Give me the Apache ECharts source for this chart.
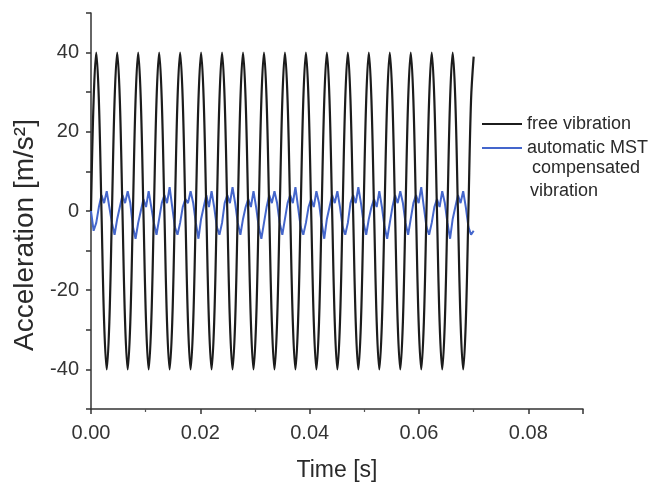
<!DOCTYPE html>
<html>
<head>
<meta charset="utf-8">
<script src="https://cdn.jsdelivr.net/npm/echarts@6/dist/echarts.min.js"></script>
<style>
html,body{margin:0;padding:0;background:#fff;}
#chart{width:652px;height:487px;}
</style>
</head>
<body>
<div id="chart"></div>
<script>
// Sampling step of the recorded signals [s] (8 samples per oscillation period)
const sampleStep = 0.00047945;

// Free vibration acceleration samples [m/s^2]
const freeVibration = [
  0, 28, 40, 28, 0, -28, -40, -28,
  0, 28, 40, 28, 0, -28, -40, -28,
  0, 28, 40, 28, 0, -28, -40, -28,
  0, 28, 40, 28, 0, -28, -40, -28,
  0, 28, 40, 28, 0, -28, -40, -28,
  0, 28, 40, 28, 0, -28, -40, -28,
  0, 28, 40, 28, 0, -28, -40, -28,
  0, 28, 40, 28, 0, -28, -40, -28,
  0, 28, 40, 28, 0, -28, -40, -28,
  0, 28, 40, 28, 0, -28, -40, -28,
  0, 28, 40, 28, 0, -28, -40, -28,
  0, 28, 40, 28, 0, -28, -40, -28,
  0, 28, 40, 28, 0, -28, -40, -28,
  0, 28, 40, 28, 0, -28, -40, -28,
  0, 28, 40, 28, 0, -28, -40, -28,
  0, 28, 40, 28, 0, -28, -40, -28,
  0, 28, 40, 28, 0, -28, -40, -28,
  0, 28, 40, 28, 0, -28, -40, -28,
  0, 28, 39
];

// Automatic MST compensated vibration acceleration samples [m/s^2]
const compensatedVibration = [
  0, -5, -3, 1, 4, 2, 5, 1,
  -3, -6, -2, 1, 4, 2, 5, 2,
  -4, -7, -3, 0, 3, 1, 5, 1,
  -3, -6, -2, 2, 4, 2, 6, 1,
  -4, -6, -3, 1, 3, 2, 5, 2,
  -3, -7, -2, 1, 4, 1, 5, 1,
  -4, -6, -3, 2, 4, 2, 6, 2,
  -3, -6, -2, 1, 3, 1, 5, 1,
  -4, -7, -3, 1, 4, 2, 5, 2,
  -3, -6, -2, 2, 4, 2, 6, 1,
  -4, -6, -3, 1, 3, 1, 5, 2,
  -3, -7, -2, 1, 4, 2, 5, 1,
  -4, -6, -3, 2, 4, 2, 6, 2,
  -3, -6, -2, 1, 3, 1, 5, 1,
  -4, -7, -3, 1, 4, 2, 5, 2,
  -3, -6, -2, 2, 4, 2, 6, 1,
  -4, -6, -3, 1, 3, 1, 5, 2,
  -3, -7, -2, 1, 4, 2, 5, 1,
  -4, -6, -5
];

const seriesNames = ['free vibration', 'automatic MST compensated vibration'];
const legendFirstLines = ['free vibration', 'automatic MST'];
const legendExtraLines = ['compensated', 'vibration'];
const yLabelValues = [-40, -20, 0, 20, 40];
const xLabelValues = [0, 0.02, 0.04, 0.06, 0.08];

function toPairs(values) {
  return values.map((v, i) => [i * sampleStep, v]);
}

const FONT = "'Liberation Sans', Arial, sans-serif";
const chart = echarts.init(document.getElementById('chart'));

chart.setOption({
  backgroundColor: '#ffffff',
  animation: false,
  textStyle: { fontFamily: FONT },
  grid: { left: 91, right: 69, top: 13, bottom: 74, containLabel: false },
  legend: {
    orient: 'vertical',
    left: 477,
    top: 110,
    itemWidth: 40,
    itemHeight: 2,
    itemGap: 6,
    icon: 'rect',
    data: seriesNames,
    formatter: name => legendFirstLines[seriesNames.indexOf(name)],
    textStyle: { fontFamily: FONT, fontSize: 18, color: '#2a2a2a' }
  },
  graphic: [
    { type: 'text', left: 532, top: 159, style: { text: legendExtraLines[0], font: "18px 'Liberation Sans', Arial, sans-serif", fill: '#2a2a2a' } },
    { type: 'text', left: 530, top: 182, style: { text: legendExtraLines[1], font: "18px 'Liberation Sans', Arial, sans-serif", fill: '#2a2a2a' } }
  ],
  xAxis: {
    type: 'value',
    min: 0,
    max: 0.09,
    interval: 0.02,
    name: 'Time [s]',
    nameLocation: 'middle',
    nameGap: 50,
    nameTextStyle: { fontFamily: FONT, fontSize: 23, color: '#2a2a2a' },
    axisLine: { show: true, onZero: false, lineStyle: { color: '#333', width: 1.5 } },
    axisTick: { show: true, length: 5, lineStyle: { color: '#333', width: 1.5 } },
    minorTick: { show: true, splitNumber: 2, length: 3, lineStyle: { color: '#555', width: 1.2 } },
    axisLabel: {
      margin: 14,
      fontFamily: FONT, fontSize: 20, color: '#333',
      showMaxLabel: false,
      formatter: v => (xLabelValues.some(x => Math.abs(x - v) < 1e-9) ? v.toFixed(2) : '')
    },
    splitLine: { show: false },
    minorSplitLine: { show: false }
  },
  yAxis: {
    type: 'value',
    min: -50,
    max: 50,
    interval: 10,
    name: 'Acceleration [m/s²]',
    nameLocation: 'middle',
    nameGap: 41,
    nameTextStyle: { fontFamily: FONT, fontSize: 28, color: '#2a2a2a', padding: [0, 48, 0, 0] },
    axisLine: { show: true, onZero: false, lineStyle: { color: '#333', width: 1.5 } },
    axisTick: { show: true, length: 5, lineStyle: { color: '#333', width: 1.5 } },
    axisLabel: {
      margin: 12,
      fontFamily: FONT, fontSize: 20, color: '#333',
      formatter: v => (yLabelValues.indexOf(v) >= 0 ? String(v) : '')
    },
    splitLine: { show: false }
  },
  series: [
    {
      name: seriesNames[0],
      type: 'line',
      data: toPairs(freeVibration),
      symbol: 'none',
      smooth: 0.35,
      z: 3,
      lineStyle: { color: '#1c1c1c', width: 2.2 },
      itemStyle: { color: '#1c1c1c' }
    },
    {
      name: seriesNames[1],
      type: 'line',
      data: toPairs(compensatedVibration),
      symbol: 'none',
      z: 2,
      lineStyle: { color: '#4466cc', width: 2 },
      itemStyle: { color: '#4466cc' }
    }
  ]
});
</script>
</body>
</html>
